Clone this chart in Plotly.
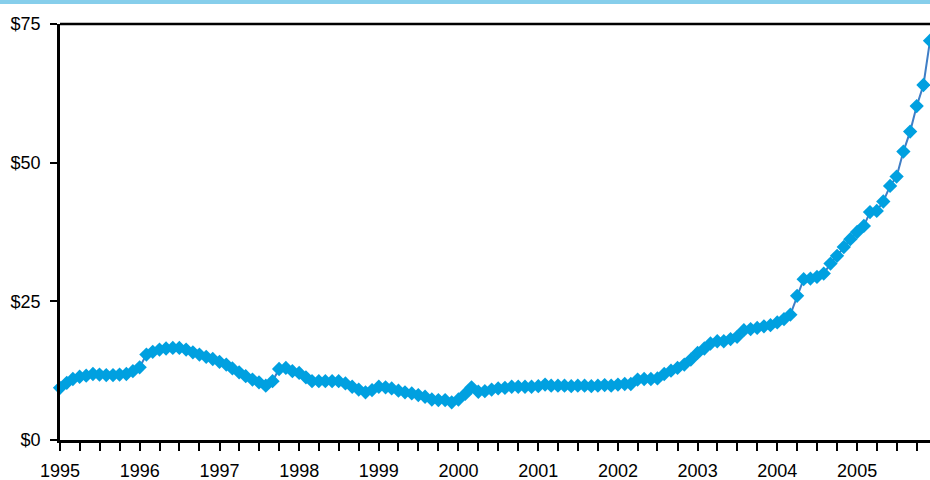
import plotly.graph_objects as go
import pandas as pd

# Monthly values, Jan 1995 .. Dec 2005
start_month = "1995-01-01"
values = [
    # 1995
    9.4, 10.3, 11.0, 11.4, 11.6, 11.9, 11.8, 11.7, 11.7, 11.8, 11.9, 12.4,
    # 1996
    13.1, 15.4, 15.9, 16.3, 16.5, 16.6, 16.6, 16.3, 15.8, 15.4, 15.0, 14.6,
    # 1997
    14.1, 13.6, 12.9, 12.2, 11.5, 10.9, 10.4, 9.8, 10.6, 12.8, 13.0, 12.4,
    # 1998
    12.1, 11.3, 10.6, 10.6, 10.6, 10.6, 10.6, 10.2, 9.6, 9.1, 8.6, 9.0,
    # 1999
    9.6, 9.5, 9.3, 8.9, 8.6, 8.4, 8.1, 7.8, 7.3, 7.2, 7.2, 6.8,
    # 2000
    7.3, 8.3, 9.5, 8.7, 8.8, 9.1, 9.3, 9.4, 9.6, 9.6, 9.6, 9.6,
    # 2001
    9.7, 10.0, 9.8, 9.8, 9.8, 9.7, 9.8, 9.8, 9.7, 9.8, 9.9, 9.8,
    # 2002
    10.0, 10.1, 10.1, 10.9, 11.0, 11.0, 11.1, 11.9, 12.5, 13.0, 13.6, 14.5,
    # 2003
    15.7, 16.5, 17.4, 17.8, 17.8, 18.2, 18.6, 19.8, 20.0, 20.2, 20.5, 20.7,
    # 2004
    21.2, 21.8, 22.6, 26.0, 29.0, 29.1, 29.4, 30.0, 31.8, 33.2, 34.8, 36.2,
    # 2005
    37.5, 38.6, 41.1, 41.3, 43.0, 45.8, 47.5, 52.0, 55.6, 60.2, 64.0, 72.0,
]
dates = pd.date_range(start_month, periods=len(values), freq="MS")

y_ticks = [0, 25, 50, 75]
y_labels = ["$0", "$25", "$50", "$75"]

fig = go.Figure()
fig.add_trace(go.Scatter(
    x=dates, y=values, mode="lines+markers",
    line=dict(color="#3F7EC6", width=2),
    marker=dict(symbol="diamond", size=11, color="#00A0E0",
                line=dict(width=0)),
    cliponaxis=False, showlegend=False, hoverinfo="skip",
))

fig.update_layout(
    width=930, height=480,
    margin=dict(l=60, r=0, t=24, b=40),
    paper_bgcolor="white", plot_bgcolor="white",
    font=dict(family="Liberation Sans, Arial, sans-serif", size=18, color="black"),
    xaxis=dict(
        type="date", automargin=False,
        range=["1995-01-01", "2005-12-01"],
        tick0="1995-01-01", dtick="M12", tickformat="%Y",
        ticks="outside", ticklen=8, tickwidth=2, tickcolor="black",
        showline=True, linewidth=2.5, linecolor="black",
        showgrid=False, zeroline=False,
        tickfont=dict(size=18), ticklabelstandoff=5,
        minor=dict(dtick="M3", tick0="1995-01-01", ticks="outside",
                   ticklen=8, tickwidth=2, tickcolor="black", showgrid=False),
    ),
    yaxis=dict(
        automargin=False,
        range=[0, 75],
        tickvals=y_ticks, ticktext=y_labels,
        ticks="outside", ticklen=7, tickwidth=2, tickcolor="black",
        showline=True, linewidth=2.5, linecolor="black",
        showgrid=False, zeroline=False,
        tickfont=dict(size=18), ticklabelstandoff=6,
    ),
    shapes=[
        dict(type="line", xref="paper", yref="paper", x0=0, x1=1, y0=1, y1=1,
             line=dict(color="black", width=2.5)),
        dict(type="rect", xref="paper", yref="paper",
             x0=-60 / 870, x1=1, y0=1 + 20 / 416, y1=1 + 24 / 416,
             fillcolor="#86CEEB", line=dict(width=0), layer="above"),
    ],
)

fig.write_html("out.html",
               config={"displayModeBar": False},
               post_script="document.body.style.margin='0px';document.body.style.overflow='hidden';")
